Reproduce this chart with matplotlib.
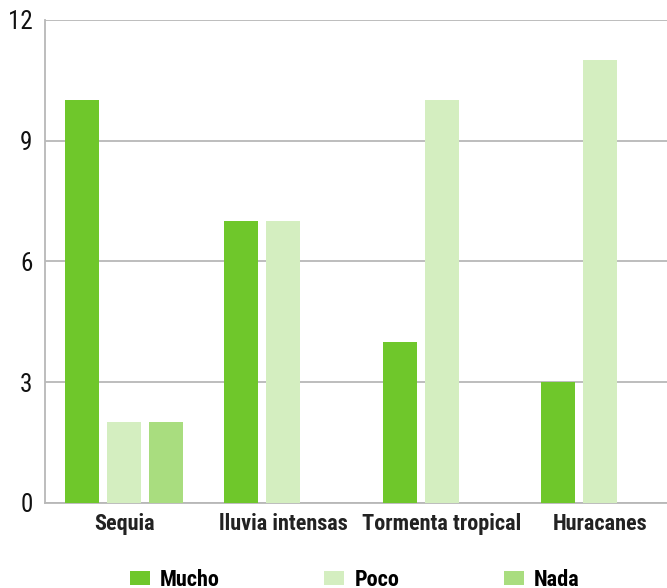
import numpy as np
from matplotlib import pyplot as plt

# Data
categories = ["Sequia", "lluvia intensas", "Tormenta tropical", "Huracanes"]
mucho = [10, 7, 4, 3]
poco = [2, 7, 10, 11]
nada = [2, 0, 0, 0]
series_names = ["Mucho", "Poco", "Nada"]
colors = ["#6fc72b", "#d4eec0", "#a9dd7f"]
yticks = [0, 3, 6, 9, 12]

plt.rcParams['font.family'] = ['Roboto Condensed', 'Roboto', 'DejaVu Sans']

fig = plt.figure(figsize=(6.67, 5.88), dpi=100)
ax = fig.add_axes([0.0675, 0.1446, 0.9325, 0.8214])

x = np.arange(len(categories))
width = 0.215
offset = 0.265
for i, (vals, name, c) in enumerate(zip([mucho, poco, nada], series_names, colors)):
    ax.bar(x + (i - 1) * offset, vals, width=width, color=c, label=name, zorder=3)

ax.set_xlim(-0.5, 3.42)
ax.set_ylim(0, 12)
ax.set_yticks(yticks)
ax.set_xticks(x)
ax.set_xticklabels(categories, fontsize=16, fontweight='bold', color='#222222')
ax.tick_params(axis='y', labelsize=18, length=0, pad=9, labelcolor='#111111')
ax.tick_params(axis='x', length=0, pad=7)
ax.grid(axis='y', color='#b8b8b8', linewidth=1.3, zorder=0)

for side in ['top', 'right']:
    ax.spines[side].set_visible(False)
for side in ['left', 'bottom']:
    ax.spines[side].set_color('#b8b8b8')
    ax.spines[side].set_linewidth(1.3)

fig.legend(loc='center', bbox_to_anchor=(0.532, 0.014), ncol=3, frameon=False,
           prop={'size': 16, 'weight': 'bold'}, handlelength=0.9, handleheight=0.6,
           columnspacing=4.7, handletextpad=0.45)

fig.savefig("out.png", dpi=100)
